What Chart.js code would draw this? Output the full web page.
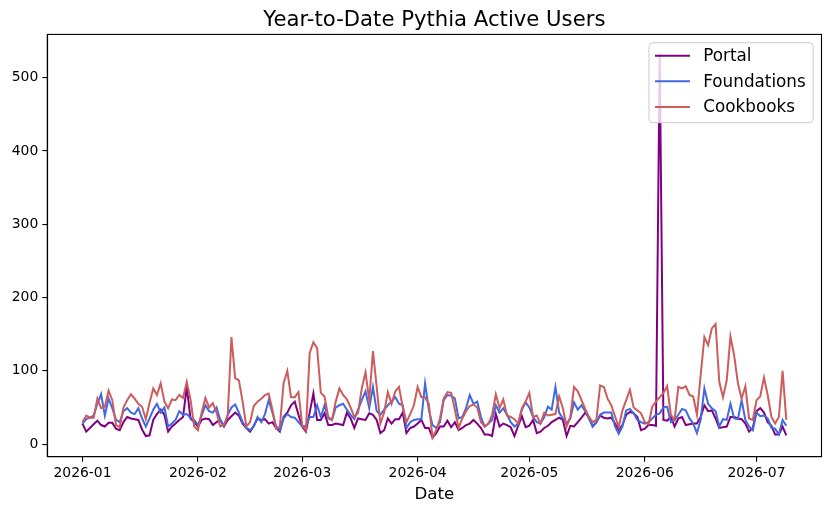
<!DOCTYPE html>
<html><head><meta charset="utf-8">
<script src="https://cdn.jsdelivr.net/npm/chart.js@4.4.1/dist/chart.umd.min.js"></script>
<style>html,body{margin:0;padding:0;background:#fff;} #wrap{width:831px;height:513px;position:relative;}</style>
</head><body><div id="wrap"><canvas id="c" width="831" height="513"></canvas></div>
<script>
const chartTitle = 'Year-to-Date Pythia Active Users';
const xAxisLabel = 'Date';
const startDate = '2026-01-01';
const seriesNames = ['Portal', 'Foundations', 'Cookbooks'];
const seriesColors = ['#800080', '#4169e1', '#cd5c5c'];

// daily values, one per day starting at startDate
const portal = [
  28,17,22,27,32,26,24,29,29,21,
  19,30,37,35,34,33,20,11,12,33,
  41,47,40,17,24,28,33,37,78,35,
  30,24,33,35,34,26,30,33,24,33,
  38,43,39,28,22,17,25,35,33,34,
  28,30,22,17,37,43,53,58,40,24,
  17,43,69,33,33,42,26,26,28,27,
  26,43,35,22,35,34,33,42,40,33,
  15,19,35,28,34,34,43,15,22,24,
  28,33,22,22,9,15,24,24,32,23,
  30,19,22,26,28,33,28,22,13,13,
  11,41,24,28,26,23,11,25,38,23,
  25,33,15,17,22,25,30,33,36,33,
  11,25,24,30,36,43,37,24,30,39,
  36,35,36,28,19,26,40,44,42,37,
  19,21,26,26,25,533,33,32,37,24,
  35,37,26,27,28,28,37,53,45,46,
  35,22,23,24,37,37,35,34,28,17,
  22,45,49,43,30,25,13,13,24,12
];
const foundations = [
  28,34,36,39,55,68,39,62,49,33,
  30,45,49,43,41,49,35,24,35,47,
  55,43,50,24,28,33,45,40,41,36,
  33,26,39,53,45,43,50,33,25,40,
  50,54,43,30,22,19,24,37,30,41,
  60,43,24,19,35,41,37,36,30,24,
  25,37,37,53,37,53,35,33,50,53,
  55,47,40,34,47,60,72,49,78,45,
  40,47,53,58,64,55,53,22,30,33,
  34,34,83,47,26,22,30,60,67,66,
  62,35,37,49,67,55,58,37,24,28,
  33,53,43,49,40,30,24,28,47,57,
  50,37,30,28,37,51,47,78,43,35,
  28,35,57,47,53,45,35,24,30,40,
  43,43,43,24,14,24,46,48,42,33,
  30,28,30,35,40,42,50,51,30,33,
  40,48,46,35,28,15,33,76,55,49,
  45,24,34,33,55,35,34,60,33,24,
  19,43,38,39,35,22,21,13,33,25
];
const cookbooks = [
  30,39,36,36,62,49,51,73,60,26,
  23,50,60,68,62,55,51,34,56,76,
  67,83,58,49,61,60,67,63,85,61,
  24,19,43,63,50,56,43,24,26,39,
  146,90,87,58,24,30,52,58,62,67,
  69,47,21,24,83,100,64,64,71,26,
  19,124,139,131,70,65,37,33,58,76,
  67,61,50,37,43,76,98,60,127,78,
  28,43,71,55,72,78,50,30,41,53,
  78,64,64,55,9,19,35,62,71,70,
  47,22,35,45,52,54,50,30,24,28,
  40,68,49,61,39,37,34,28,49,58,
  70,37,39,28,43,39,40,41,65,49,
  24,37,78,72,60,48,37,30,33,80,
  78,62,53,38,23,46,60,74,50,46,
  42,30,27,51,58,64,70,79,40,33,
  78,76,79,67,65,40,94,146,135,158,
  164,85,64,87,147,121,83,62,79,35,
  33,60,65,91,67,37,28,37,100,33
];

const monthTickDays = [0, 31, 59, 90, 120, 151, 181];
const monthTickLabels = ['2026-01', '2026-02', '2026-03', '2026-04', '2026-05', '2026-06', '2026-07'];
const yTickValues = [0, 100, 200, 300, 400, 500];
const yRange = [-17.2, 559.2];

const allSeries = [portal, foundations, cookbooks];
const lastDay = portal.length - 1;

const FONT = "'DejaVu Sans', 'Liberation Sans', sans-serif";
const toPoints = arr => arr.map((v, i) => ({ x: i, y: v }));

const deco = {
  id: 'deco',
  afterDraw(chart) {
    const { ctx, chartArea: a } = chart;
    ctx.save();
    // frame
    ctx.strokeStyle = '#000';
    ctx.lineWidth = 1.1;
    ctx.strokeRect(a.left, a.top, a.right - a.left, a.bottom - a.top);
    // title
    ctx.fillStyle = '#000';
    ctx.font = '21.2px ' + FONT;
    ctx.textAlign = 'center';
    ctx.textBaseline = 'alphabetic';
    ctx.fillText(chartTitle, (a.left + a.right) / 2, a.top - 8.3);
    // legend
    const fs = 16.8;
    const bx = a.right - 8.3, by = a.top + 8.3;
    ctx.font = fs + 'px ' + FONT;
    let tw = 0;
    seriesNames.forEach(n => { tw = Math.max(tw, ctx.measureText(n).width); });
    const pad = 6, handle = 35, gap = 13.3, rpad = 7.5, rowH = 25.6;
    const w = pad + handle + gap + tw + rpad;
    const h = 80;
    const x0 = bx - w, y0 = by;
    const r = 4;
    ctx.beginPath();
    ctx.moveTo(x0 + r, y0);
    ctx.lineTo(x0 + w - r, y0); ctx.quadraticCurveTo(x0 + w, y0, x0 + w, y0 + r);
    ctx.lineTo(x0 + w, y0 + h - r); ctx.quadraticCurveTo(x0 + w, y0 + h, x0 + w - r, y0 + h);
    ctx.lineTo(x0 + r, y0 + h); ctx.quadraticCurveTo(x0, y0 + h, x0, y0 + h - r);
    ctx.lineTo(x0, y0 + r); ctx.quadraticCurveTo(x0, y0, x0 + r, y0);
    ctx.closePath();
    ctx.fillStyle = 'rgba(255,255,255,0.8)';
    ctx.fill();
    ctx.strokeStyle = '#cccccc';
    ctx.lineWidth = 1;
    ctx.stroke();
    ctx.textAlign = 'left';
    ctx.textBaseline = 'middle';
    seriesNames.forEach((n, i) => {
      const yy = y0 + 13 + i * rowH;
      ctx.strokeStyle = seriesColors[i];
      ctx.lineWidth = 2;
      ctx.beginPath();
      ctx.moveTo(x0 + pad, yy); ctx.lineTo(x0 + pad + handle, yy);
      ctx.stroke();
      ctx.fillStyle = '#000';
      ctx.fillText(n, x0 + pad + handle + gap, yy + 1);
    });
    // x axis label
    ctx.font = '16.7px ' + FONT;
    ctx.textAlign = 'center';
    ctx.textBaseline = 'alphabetic';
    ctx.fillStyle = '#000';
    ctx.fillText(xAxisLabel, (a.left + a.right) / 2, 499);
    ctx.restore();
  }
};

new Chart(document.getElementById('c'), {
  type: 'line',
  data: {
    datasets: allSeries.map((s, i) => ({
      label: seriesNames[i],
      data: toPoints(s),
      borderColor: seriesColors[i],
      backgroundColor: seriesColors[i],
      borderWidth: 2,
      pointRadius: 0,
      tension: 0,
      fill: false,
      order: 3 - i
    }))
  },
  options: {
    responsive: false,
    animation: false,
    devicePixelRatio: 1,
    layout: { padding: { top: 34.4, right: 9.5, left: 0, bottom: 0 } },
    plugins: { legend: { display: false }, title: { display: false }, tooltip: { enabled: false } },
    scales: {
      x: {
        type: 'linear',
        min: -0.05 * lastDay,
        max: 1.05 * lastDay,
        afterBuildTicks: s => { s.ticks = monthTickDays.map(v => ({ value: v })); },
        afterFit: s => { s.height = 56.3; },
        ticks: {
          autoSkip: false, maxRotation: 0, minRotation: 0,
          color: '#000', font: { family: FONT, size: 13.9 }, padding: 3,
          callback: (v, idx) => monthTickLabels[idx]
        },
        grid: { display: true, drawOnChartArea: false, drawTicks: true, tickLength: 5, color: '#000', lineWidth: 1.1 },
        border: { display: true, color: '#000', width: 1.1 }
      },
      y: {
        type: 'linear',
        min: yRange[0],
        max: yRange[1],
        afterBuildTicks: s => { s.ticks = yTickValues.map(v => ({ value: v })); },
        afterFit: s => { s.width = 47.3; },
        ticks: {
          color: '#000', font: { family: FONT, size: 13.9 }, padding: 4,
          callback: v => String(v)
        },
        grid: { display: true, drawOnChartArea: false, drawTicks: true, tickLength: 5, color: '#000', lineWidth: 1.1 },
        border: { display: true, color: '#000', width: 1.1 }
      }
    }
  },
  plugins: [deco]
});
</script>
</body></html>
